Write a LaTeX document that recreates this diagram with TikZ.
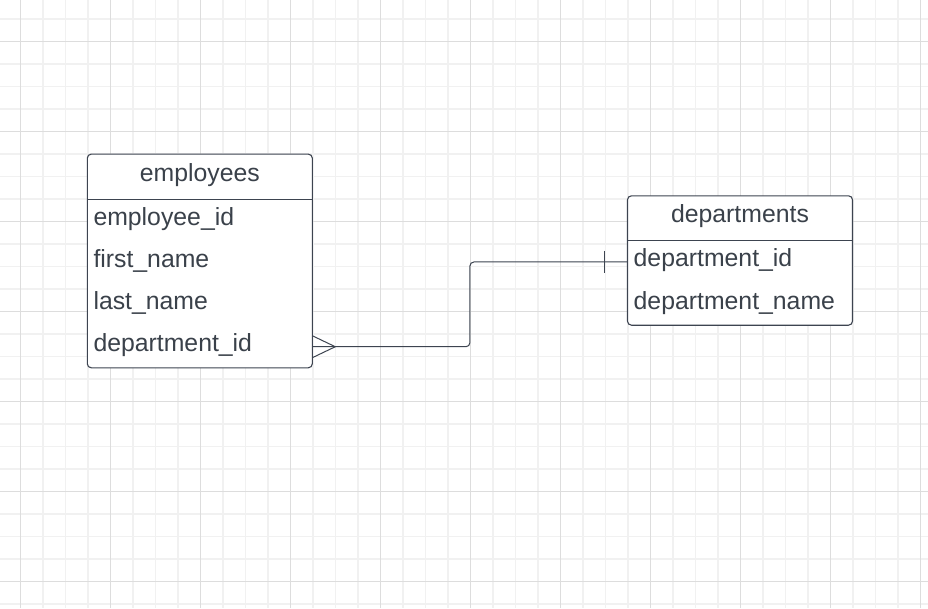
\documentclass[tikz,border=0pt]{standalone}
\usepackage{fontspec}
\setmainfont{Liberation Sans}
\usetikzlibrary{calc,positioning}
\pgfdeclarelayer{gridlayer}
\pgfdeclarelayer{boxlayer}
\pgfsetlayers{gridlayer,boxlayer,main}
\definecolor{erline}{RGB}{61,68,80}
\definecolor{ertext}{RGB}{58,65,74}
\definecolor{gridminor}{RGB}{241,241,241}
\definecolor{gridmajor}{RGB}{221,221,221}
\begin{document}
\begin{tikzpicture}[x=1pt,y=-1pt,
  erfont/.style={text=ertext,font=\fontsize{24.8}{30}\selectfont},
  tablehead/.style={erfont,minimum width=224.6pt,minimum height=44.7pt,
    inner sep=0pt,text height=18pt,text depth=9pt},
  tablefield/.style={erfont,minimum width=224.6pt,minimum height=41.75pt,
    inner xsep=6pt,inner ysep=0pt,text width=212.6pt,align=left,
    text height=18pt,text depth=8pt},
  tablebox/.style={draw=erline,fill=white,line width=1.1pt,rounded corners=4pt},
  relline/.style={draw=erline,line width=1pt}]
  \useasboundingbox(0,0)rectangle(928,608);
  \begin{pgfonlayer}{gridlayer}
    \fill[white](0,0)rectangle(928,608);
    \foreach \k in {0,...,40}
      \draw[gridminor,line width=1.5pt]({20.7+22.5*\k},0)--++(0,608);
    \foreach \k in {0,...,26}
      \draw[gridminor,line width=1.5pt](0,{19.2+22.5*\k})--++(928,0);
    \foreach \k in {0,...,10}
      \draw[gridmajor,line width=1pt]({20.7+90*\k},0)--++(0,608);
    \foreach \k in {0,...,6}
      \draw[gridmajor,line width=1pt](0,{41.7+90*\k})--++(928,0);
  \end{pgfonlayer}

  \path(199.8,176.65)node[tablehead](emphead){employees};
  \path(740,218.35)node[tablehead](depthead){departments};
  \node[tablefield,below=0pt of emphead](empid){employee\_id};
  \node[tablefield,below=0pt of empid](empfirst){first\_name};
  \node[tablefield,below=0pt of empfirst](emplast){last\_name};
  \node[tablefield,below=0pt of emplast](empdept){department\_id};
  \node[tablefield,below=0pt of depthead](deptid){department\_id};
  \node[tablefield,below=0pt of deptid](deptname){department\_name};

  \begin{pgfonlayer}{boxlayer}
    \filldraw[tablebox](emphead.north west)rectangle(empdept.south east);
    \filldraw[tablebox](depthead.north west)rectangle(deptname.south east);
  \end{pgfonlayer}
  \draw[relline](emphead.south west)--(emphead.south east);
  \draw[relline](depthead.south west)--(depthead.south east);

  \draw[relline,rounded corners=4pt](empdept.east)
    -|($(empdept.east)!0.5!(deptid.west)$)|-(deptid.west);
  \draw[relline]($(empdept.east)+(0,-11)$)--($(empdept.east)+(23,0)$)
    --($(empdept.east)+(0,11)$);
  \draw[relline]($(deptid.west)+(-23.5,-11)$)--($(deptid.west)+(-23.5,11)$);
\end{tikzpicture}
\end{document}
